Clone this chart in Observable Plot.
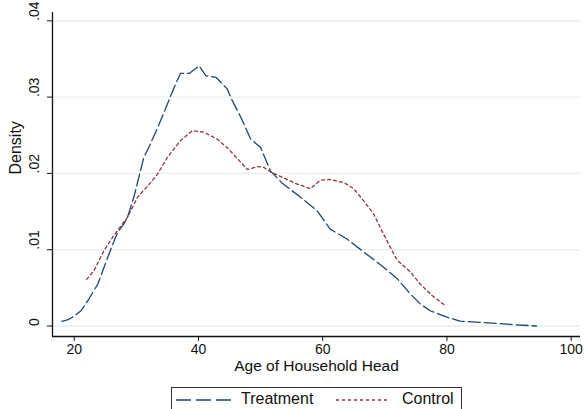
<!DOCTYPE html>
<html>
<head>
<meta charset="utf-8">
<script src="https://cdn.jsdelivr.net/npm/d3@7"></script>
<script src="https://cdn.jsdelivr.net/npm/@observablehq/plot@0.6"></script>
<style>
  html, body { margin: 0; padding: 0; background: #fff; overflow: hidden; }
  body { width: 584px; height: 409px; position: relative; font-family: "Liberation Sans", Arial, sans-serif; }
  #chart { position: absolute; left: 0; top: 0; }
  #legend { position: absolute; left: 171px; top: 387px; width: 291px; height: 30px; border: 1.3px solid #333; box-sizing: border-box; background: #fff; }
</style>
</head>
<body>
<div id="chart"></div>
<div id="legend"></div>
<script>
// ---- data ----
const seriesNames = ["Treatment", "Control"];
const treatmentAge = [18.0, 18.9, 19.7, 21.1, 22.4, 23.8, 24.8, 25.9, 27.0, 28.0, 28.6, 29.6, 30.4, 31.2, 32.0, 33.1, 33.9, 35.0, 36.1, 37.1, 38.5, 40.1, 41.2, 42.8, 44.6, 45.4, 46.8, 48.4, 50.0, 51.6, 53.5, 56.4, 59.1, 61.2, 63.9, 66.6, 69.5, 72.0, 74.1, 75.7, 77.3, 80.0, 82.1, 85.9, 90.2, 94.4];
const treatmentDensity = [0.0006, 0.0008, 0.00115, 0.0020, 0.0036, 0.0055, 0.0077, 0.0101, 0.0123, 0.0134, 0.0143, 0.0169, 0.0195, 0.0221, 0.0234, 0.0254, 0.0269, 0.0291, 0.0313, 0.0331, 0.0331, 0.0341, 0.0328, 0.0326, 0.0311, 0.0296, 0.0274, 0.0245, 0.0234, 0.0203, 0.0187, 0.0169, 0.0151, 0.0127, 0.0114, 0.0097, 0.0079, 0.0062, 0.0042, 0.0029, 0.0020, 0.00115, 0.00063, 0.00046, 0.0002, 0.0000];
const controlAge = [22.0, 23.2, 24.8, 26.4, 28.6, 30.2, 32.3, 33.4, 35.0, 37.1, 39.0, 40.9, 43.0, 44.6, 46.3, 47.9, 49.5, 50.5, 51.6, 53.7, 55.9, 58.0, 59.6, 61.2, 63.4, 65.0, 66.6, 68.2, 69.5, 70.9, 72.0, 74.1, 75.7, 77.6, 79.7];
const controlDensity = [0.0061, 0.0073, 0.0099, 0.0119, 0.0143, 0.0169, 0.0188, 0.0199, 0.0221, 0.0243, 0.0256, 0.0254, 0.0245, 0.0234, 0.0219, 0.0205, 0.0209, 0.0208, 0.0202, 0.0194, 0.0186, 0.0180, 0.0191, 0.0192, 0.0188, 0.0180, 0.0164, 0.0147, 0.0125, 0.0103, 0.0086, 0.0071, 0.0055, 0.0040, 0.0027];
const xTicks = [20, 40, 60, 80, 100];
const yTicks = [0, 0.01, 0.02, 0.03, 0.04];
const yTickLabels = ["0", ".01", ".02", ".03", ".04"];
const xTitle = "Age of Household Head";
const yTitle = "Density";

// ---- build ----
const treatment = treatmentAge.map((a, i) => ({age: a, density: treatmentDensity[i]}));
const control = controlAge.map((a, i) => ({age: a, density: controlDensity[i]}));
const xDomain = [16.5, 101.5];
const yDomain = [-0.001376, 0.04109];
const colors = {Treatment: "#1a476f", Control: "#90353b"};
const dashes = {Treatment: "12,4", Control: "3,3"};
const ink = "#111";

const chart = Plot.plot({
  width: 584,
  height: 380,
  marginLeft: 52,
  marginRight: 4,
  marginTop: 12,
  marginBottom: 44,
  style: {fontFamily: "'Liberation Sans', Arial, sans-serif", color: ink, background: "#fff"},
  x: {domain: xDomain, axis: null},
  y: {domain: yDomain, axis: null},
  marks: [
    Plot.ruleY(yTicks, {stroke: "#e6eff1", strokeWidth: 1.4}),
    Plot.line(treatment, {x: "age", y: "density", stroke: colors.Treatment, strokeWidth: 1.3, strokeDasharray: dashes.Treatment}),
    Plot.line(control, {x: "age", y: "density", stroke: colors.Control, strokeWidth: 1.3, strokeDasharray: dashes.Control}),
    Plot.ruleX([xDomain[0]], {stroke: ink, strokeWidth: 1.3}),
    Plot.ruleY([yDomain[0]], {stroke: ink, strokeWidth: 1.3}),
    Plot.axisX({ticks: xTicks, tickSize: 5, tickPadding: 3, fontSize: 14, label: null, stroke: ink}),
    Plot.axisY({ticks: yTicks, tickSize: 5, tickFormat: () => "", label: null, stroke: ink}),
    Plot.text(yTicks, {y: d => d, text: (d, i) => yTickLabels[i], frameAnchor: "left", dx: -18, rotate: -90, fontSize: 14, fill: ink}),
    Plot.text([yTitle], {text: d => d, frameAnchor: "left", dx: -37, rotate: -90, fontSize: 16, fill: ink}),
    Plot.text([xTitle], {text: d => d, frameAnchor: "bottom", dy: 34, fontSize: 15.5, fill: ink})
  ]
});
document.getElementById("chart").appendChild(chart);

// ---- legend below the chart ----
const lg = d3.select("#legend").append("svg").attr("width", 291).attr("height", 30)
  .style("position", "absolute").style("left", "-1px").style("top", "-1px")
  .style("font-family", "'Liberation Sans', Arial, sans-serif");
const legendPos = [{x1: 5, x2: 60, tx: 70}, {x1: 165, x2: 219, tx: 231}];
seriesNames.forEach((name, i) => {
  const p = legendPos[i];
  lg.append("line").attr("x1", p.x1).attr("x2", p.x2).attr("y1", 13).attr("y2", 13)
    .attr("stroke", colors[name]).attr("stroke-width", 1.3).attr("stroke-dasharray", name === "Treatment" ? "15,5" : dashes[name]);
  lg.append("text").attr("x", p.tx).attr("y", 17).attr("font-size", 16).attr("fill", ink).text(name);
});
</script>
</body>
</html>
